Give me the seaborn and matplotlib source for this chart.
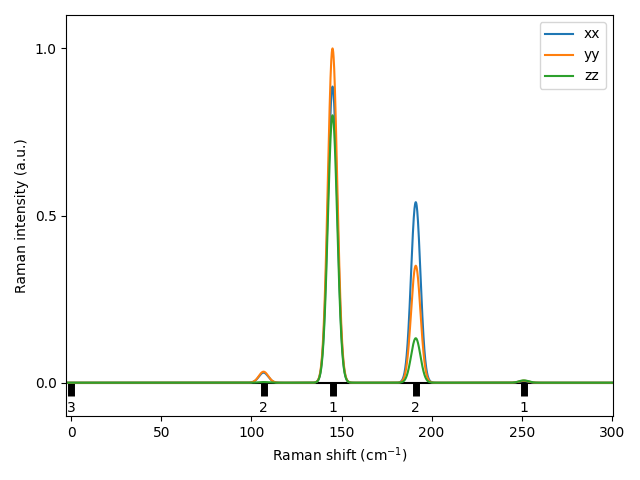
import numpy as np
import pandas as pd
import matplotlib
matplotlib.use("Agg")
import matplotlib.pyplot as plt
import seaborn as sns

# Mode frequencies (cm^-1) and degeneracies
mode_freqs = [0.0, 106.7, 145.0, 191.2, 251.2]
degeneracy = [3, 2, 1, 2, 1]

# Peak intensities per polarization at each mode
xx_int = [0.0, 0.030, 0.886, 0.540, 0.005]
yy_int = [0.0, 0.033, 1.000, 0.350, 0.006]
zz_int = [0.0, 0.002, 0.800, 0.133, 0.007]

series_names = ["xx", "yy", "zz"]
sigma = 2.6  # gaussian broadening (cm^-1)

x = np.linspace(-3, 301, 3000)
frames = []
for name, ints in zip(series_names, [xx_int, yy_int, zz_int]):
    y = np.zeros_like(x)
    for f, a in zip(mode_freqs, ints):
        y += a * np.exp(-0.5 * ((x - f) / sigma) ** 2)
    frames.append(pd.DataFrame({"shift": x, "intensity": y, "pol": name}))
df = pd.concat(frames, ignore_index=True)

fig, ax = plt.subplots(figsize=(6.4, 4.8), dpi=100)
ax.axhline(0, color="k", lw=1.5, zorder=1)
sns.lineplot(data=df, x="shift", y="intensity", hue="pol",
             palette=["#1f77b4", "#ff7f0e", "#2ca02c"], lw=1.5, ax=ax, zorder=2)

ax.vlines(mode_freqs, 0, -0.04, color="k", lw=5, zorder=0)
for f, d in zip(mode_freqs, degeneracy):
    ax.text(f, -0.075, str(d), ha="center", va="center", fontsize=10)

ax.set_xlim(-2.8, 300.7)
ax.set_ylim(-0.1, 1.1)
ax.set_yticks([0.0, 0.5, 1.0])
ax.set_xticks([0, 50, 100, 150, 200, 250, 300])
ax.set_xlabel("Raman shift (cm$^{-1}$)")
ax.set_ylabel("Raman intensity (a.u.)")
ax.legend(loc="upper right", title=None)
fig.tight_layout()
fig.savefig("out.png", dpi=100)
